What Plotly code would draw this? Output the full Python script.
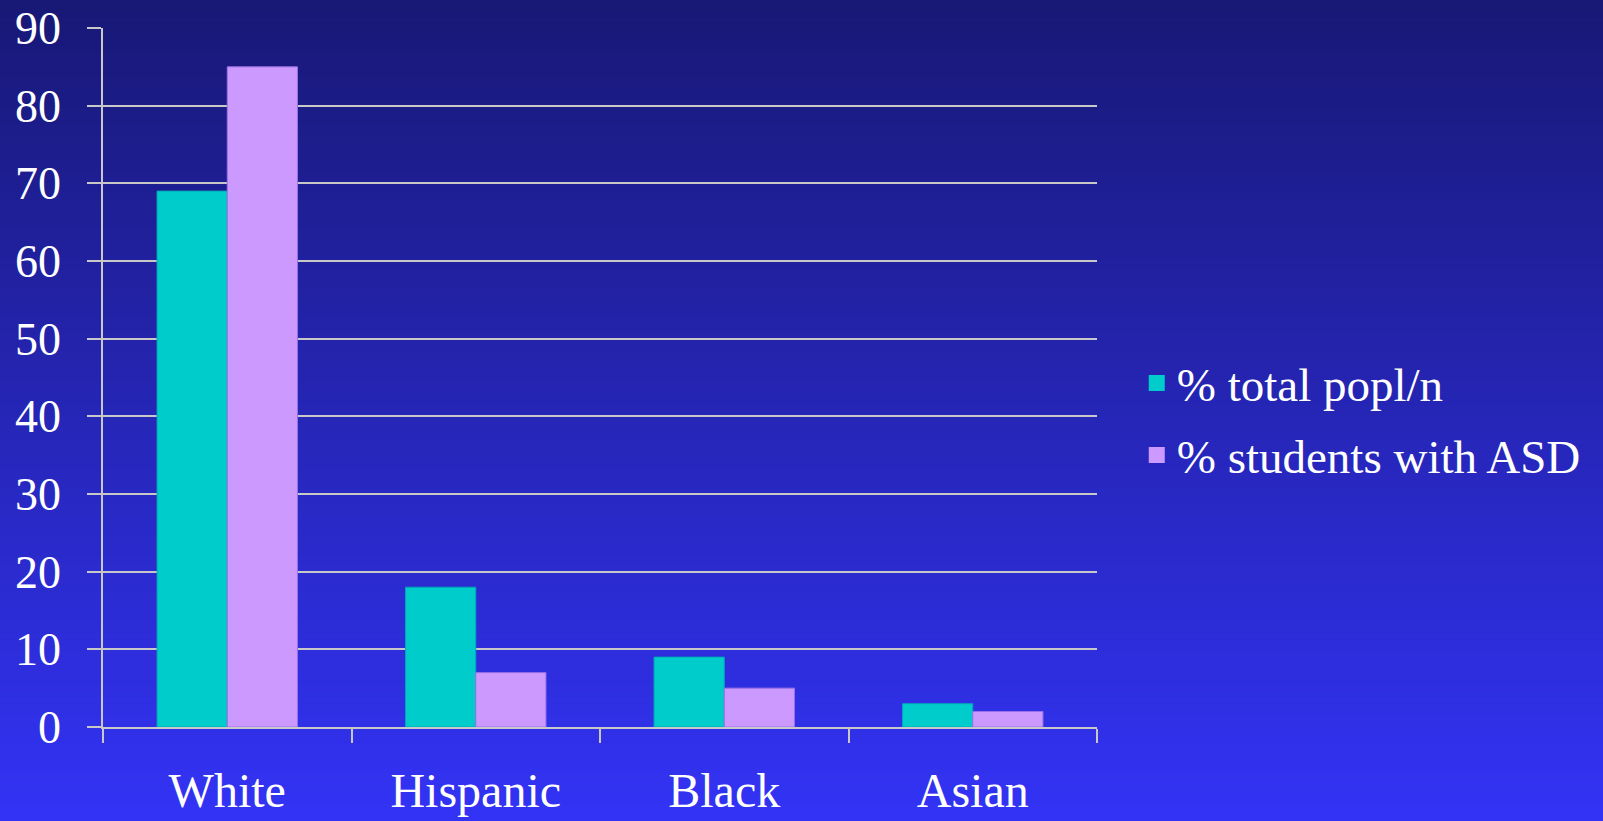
import plotly.graph_objects as go

categories = ["White", "Hispanic", "Black", "Asian"]
pct_total_population = [69, 18, 9, 3]
pct_students_asd = [85, 7, 5, 2]
series_names = ["% total popl/n", "% students with ASD"]
series_colors = ["#00CCCC", "#CC99FF"]
y_ticks = [0, 10, 20, 30, 40, 50, 60, 70, 80, 90]

W, H = 1603, 821
ML, MR, MT, MB = 103, 506, 28, 94
PW, PH = W - ML - MR, H - MT - MB

fig = go.Figure()
fig.add_trace(go.Bar(x=categories, y=pct_total_population, name=series_names[0],
                     showlegend=False,
                     marker=dict(color=series_colors[0], line=dict(color="#00A8B8", width=1))))
fig.add_trace(go.Bar(x=categories, y=pct_students_asd, name=series_names[1],
                     showlegend=False,
                     marker=dict(color=series_colors[1], line=dict(color="#9A72E6", width=1))))
# legend entries (square swatches)
for name, col, grp in zip(series_names, series_colors, ["g1", "g2"]):
    fig.add_trace(go.Scatter(x=[None], y=[None], mode="markers", name=name,
                             legendgroup=grp,
                             marker=dict(symbol="square", size=24, color=col,
                                         line=dict(width=0))))

# vertical gradient background
top = (24, 24, 118)
bot = (51, 51, 246)
n = 140
shapes = []
x0p = -ML / PW - 0.01
x1p = 1 + MR / PW + 0.01
for i in range(n):
    f0 = i / n
    f1 = (i + 1) / n
    t = (i + 0.5) / n
    c = tuple(round(top[k] + (bot[k] - top[k]) * t) for k in range(3))
    ytop_px = f0 * H - (2 if i == 0 else 0)
    ybot_px = f1 * H + (3 if i == n - 1 else 1)
    y1p = 1 + (MT - ytop_px) / PH
    y0p = 1 + (MT - ybot_px) / PH
    shapes.append(dict(type="rect", xref="paper", yref="paper", x0=x0p, x1=x1p,
                       y0=y0p, y1=y1p, fillcolor="rgb(%d,%d,%d)" % c,
                       line=dict(width=0), layer="below"))

fig.update_layout(
    width=W, height=H, autosize=False,
    margin=dict(l=ML, r=MR, t=MT, b=MB, pad=0, autoexpand=False),
    paper_bgcolor="#1a1a78",
    plot_bgcolor="rgba(0,0,0,0)",
    shapes=shapes,
    barmode="group",
    bargap=0.435,
    bargroupgap=0,
    font=dict(family="Liberation Serif, Times New Roman, serif", color="white", size=47),
    showlegend=True,
    legend=dict(x=1.04, y=0.44, xanchor="left", yanchor="middle", bgcolor="rgba(0,0,0,0)",
                font=dict(size=47, color="white"),
                tracegroupgap=8, itemwidth=30),
    xaxis=dict(
        showgrid=False, showline=True, linecolor="#c8c8c8", linewidth=1.5,
        ticks="outside", tickson="boundaries", ticklen=14, tickcolor="#c8c8c8", tickwidth=1.5,
        tickfont=dict(size=48, color="white"), ticklabelstandoff=21,
        zeroline=False, fixedrange=True, automargin=False,
    ),
    yaxis=dict(
        range=[0, 90], tickvals=y_ticks, ticktext=[str(v) for v in y_ticks],
        showgrid=True, gridcolor="#c8c8c8", gridwidth=1.5,
        showline=True, linecolor="#c8c8c8", linewidth=1.5,
        ticks="outside", ticklen=14, tickcolor="#c8c8c8", tickwidth=1.5,
        tickfont=dict(size=46, color="white"), ticklabelstandoff=17,
        zeroline=False, fixedrange=True, automargin=False,
    ),
)

fig.write_html(
    "out.html",
    config={"displayModeBar": False, "responsive": False},
    post_script="document.body.style.margin='0';document.body.style.overflow='hidden';"
                "document.body.style.background='#1a1a78';",
)
